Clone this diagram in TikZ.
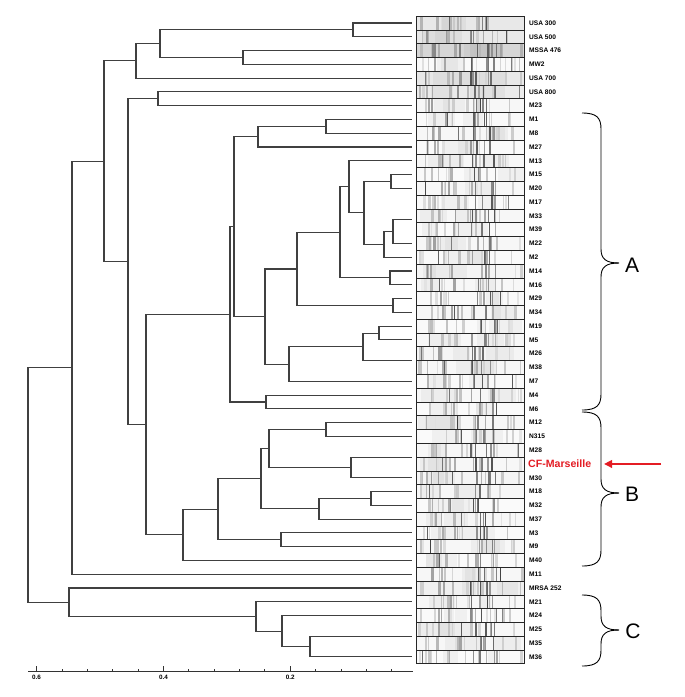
\documentclass[tikz,border=0pt]{standalone}
\usepackage{fontspec}
\setmainfont{Liberation Sans}
\usetikzlibrary{arrows.meta}
\definecolor{cfred}{RGB}{228,28,36}
\newcommand\Yr[1]{{23+13.78*(#1)}}
\tikzset{
  tree/.style={draw=black!75, line width=1.1pt},
  lab/.style={anchor=west, inner sep=0pt, font=\fontsize{6.6}{7}\selectfont\bfseries},
  cflab/.style={anchor=west, inner sep=0pt, font=\fontsize{10.6}{11}\selectfont\bfseries, text=cfred},
  bracestyle/.style={draw=black, line width=0.9pt},
  grp/.style={font=\fontsize{21}{21}\selectfont, inner sep=0pt},
  ticklab/.style={font=\fontsize{6.3}{6.5}\selectfont\bfseries, inner sep=0pt, anchor=north}
}
\newcommand\gbrace[3]{%
  \draw[bracestyle] (582,#1) .. controls (597,#1) and (601,{#1+5}) .. (601,{#1+16})
     -- (601,{#3-14}) .. controls (601,{#3-4}) and (606,#3) .. (619,#3);
  \draw[bracestyle] (582,#2) .. controls (597,#2) and (601,{#2-5}) .. (601,{#2-16})
     -- (601,{#3+14}) .. controls (601,{#3+4}) and (606,#3) .. (619,#3);
}
\begin{document}
\begin{tikzpicture}[x=1pt,y=-1pt]
\useasboundingbox (0,0) rectangle (685,697);
\fill[white] (0,0) rectangle (685,697);

% ---------- gel strips ----------
\pgfmathsetseed{4242}
\foreach \i/\bgc in {0/9,1/9,2/16,3/2,4/9,5/8,6/3,7/2,8/3,9/2,10/3,11/2,12/3,13/2,14/3,15/2,
  16/3,17/2,18/4,19/3,20/2,21/3,22/2,23/3,24/4,25/3,26/2,27/3,28/2,29/3,30/2,31/3,32/3,
  33/4,34/3,35/2,36/3,37/2,38/3,39/2,40/3,41/6,42/3,43/2,44/3,45/3,46/2}{
  \pgfmathsetmacro\yt{23+13.78*\i-6.89}
  \pgfmathsetmacro\yb{23+13.78*\i+6.89}
  \fill[black!\bgc] (416,\yt) rectangle (524,\yb);
  \foreach \k in {1,2}{
    \pgfmathsetmacro\bx{418+rnd*80}
    \pgfmathsetmacro\bw{8+rnd*30}
    \fill[black, opacity=0.04] (\bx,\yt) rectangle ++(\bw,13.78);
  }
  \foreach \k in {1,...,8}{
    \pgfmathsetmacro\bx{418+rnd*103}
    \pgfmathsetmacro\bw{0.8+rnd*2.2}
    \pgfmathtruncatemacro\bg{\bgc+8+rnd*14}
    \fill[black!\bg] (\bx,\yt) rectangle ++(\bw,13.78);
  }
  \foreach \k in {1,...,3}{
    \pgfmathsetmacro\bx{426+rnd*34}
    \pgfmathsetmacro\bw{1+rnd*2}
    \pgfmathtruncatemacro\bg{\bgc+18+rnd*18}
    \fill[black!\bg] (\bx,\yt) rectangle ++(\bw,13.78);
  }
  \foreach \k in {1,...,5}{
    \pgfmathsetmacro\bx{470+rnd*26}
    \pgfmathsetmacro\bw{0.6+rnd*1.4}
    \pgfmathtruncatemacro\bg{28+rnd*40}
    \fill[black!\bg] (\bx,\yt) rectangle ++(\bw,13.78);
  }
  \pgfmathsetmacro\bx{420+rnd*100}
  \pgfmathtruncatemacro\bg{45+rnd*30}
  \fill[black!\bg] (\bx,\yt) rectangle ++(0.7,13.78);
  \draw[black!85, line width=0.7pt] (416,\yt) rectangle (524,\yb);
}

% ---------- leaf coordinates ----------
\foreach \i in {0,...,46}{ \coordinate (l\i) at (412,\Yr{\i}); }
\coordinate (z39) at (412,\Yr{14.25});
\coordinate (z2638) at (412,\Yr{24.5});
\coordinate (z28cf) at (412,\Yr{31.5});
\coordinate (z2535) at (412,\Yr{44.5});

% ---------- internal nodes ----------
\coordinate (nUa) at (353,\Yr{0.5});
\coordinate (nMs) at (243,\Yr{2.5});
\coordinate (nA1) at (160,\Yr{1.5});
\coordinate (nA2) at (136,\Yr{2.75});
\coordinate (nB1) at (158,\Yr{5.5});
\coordinate (n18) at (326,\Yr{7.5});
\coordinate (n27) at (258,\Yr{8.25});
\coordinate (n1520) at (391,\Yr{11.5});
\coordinate (n393) at (393,\Yr{15.125});
\coordinate (n384) at (384,\Yr{16.0625});
\coordinate (n364) at (364,\Yr{13.78});
\coordinate (n349) at (349,\Yr{11.89});
\coordinate (n1416) at (390,\Yr{18.5});
\coordinate (n340) at (340,\Yr{15.195});
\coordinate (n2934) at (393,\Yr{20.5});
\coordinate (n297) at (297,\Yr{17.85});
\coordinate (n195) at (379,\Yr{22.5});
\coordinate (n363) at (363,\Yr{23.5});
\coordinate (n289) at (289,\Yr{24.75});
\coordinate (n265) at (265,\Yr{21.3});
\coordinate (n234) at (234,\Yr{14.775});
\coordinate (n46) at (266,\Yr{27.5});
\coordinate (n230) at (230,\Yr{21.14});
\coordinate (n12315) at (326,\Yr{29.5});
\coordinate (n351) at (351,\Yr{32.25});
\coordinate (n269) at (269,\Yr{30.875});
\coordinate (n1832) at (371,\Yr{34.5});
\coordinate (n319) at (319,\Yr{35.25});
\coordinate (n261) at (261,\Yr{33.06});
\coordinate (n3m9) at (281,\Yr{37.5});
\coordinate (n218) at (218,\Yr{35.28});
\coordinate (n183) at (183,\Yr{37.14});
\coordinate (n146) at (146,\Yr{29.14});
\coordinate (n128) at (128,\Yr{17.32});
\coordinate (n104) at (104,\Yr{10.035});
\coordinate (n72) at (72,\Yr{25.02});
\coordinate (n310) at (310,\Yr{45.25});
\coordinate (n282) at (282,\Yr{44.125});
\coordinate (n256) at (256,\Yr{43.06});
\coordinate (n69) at (69,\Yr{42.03});
\coordinate (nroot) at (28,\Yr{33.5});

% ---------- edges ----------
\foreach \p/\c in {nUa/l0,nUa/l1,nMs/l2,nMs/l3,nA1/nUa,nA1/nMs,nA2/nA1,nA2/l4,
  nB1/l5,nB1/l6,n18/l7,n18/l8,n27/n18,n27/l9,n1520/l11,n1520/l12,
  n393/z39,n393/l16,n384/n393,n384/l17,n364/n1520,n364/n384,
  n349/l10,n349/n364,n1416/l18,n1416/l19,n340/n349,n340/n1416,n2934/l20,n2934/l21,
  n297/n340,n297/n2934,n195/l22,n195/l23,n363/n195,n363/z2638,n289/n363,n289/l26,
  n265/n297,n265/n289,n234/n27,n234/n265,n46/l27,n46/l28,n230/n234,n230/n46,
  n12315/l29,n12315/l30,n351/z28cf,n351/l33,n269/n12315,n269/n351,
  n1832/l34,n1832/l35,n319/n1832,n319/l36,n261/n269,n261/n319,n3m9/l37,n3m9/l38,
  n218/n261,n218/n3m9,n183/n218,n183/l39,n146/n230,n146/n183,n128/nB1,n128/n146,
  n104/nA2,n104/n128,n72/n104,n72/l40,
  n310/z2535,n310/l46,n282/l43,n282/n310,n256/l42,n256/n282,n69/l41,n69/n256,
  nroot/n72,nroot/n69}{
  \draw[tree] (\p) |- (\c);
}

% ---------- labels ----------
\foreach \i/\t in {0/USA 300,1/USA 500,2/MSSA 476,3/MW2,4/USA 700,5/USA 800,6/M23,
  7/M1,8/M8,9/M27,10/M13,11/M15,12/M20,13/M17,14/M33,15/M39,16/M22,17/M2,18/M14,
  19/M16,20/M29,21/M34,22/M19,23/M5,24/M26,25/M38,26/M7,27/M4,28/M6,29/M12,30/N315,
  31/M28,33/M30,34/M18,35/M32,36/M37,37/M3,38/M9,39/M40,40/M11,41/MRSA 252,
  42/M21,43/M24,44/M25,45/M35,46/M36}{
  \node[lab] (lab\i) at (529,\Yr{\i}) {\t};
}
\node[cflab] (lab32) at (528,\Yr{32}) {CF-Marseille};

% ---------- red arrow ----------
\coordinate (arrtail) at (661,\Yr{32});
\coordinate (arrtip) at (604,\Yr{32});
\draw[cfred, line width=2.3pt, -{Triangle[length=8pt,width=7.5pt]}] (arrtail) -- (arrtip);

% ---------- braces ----------
\gbrace{113}{410}{263}
\gbrace{412}{566}{493}
\gbrace{595}{666}{630}
\node[grp] (gA) at (632,265) {A};
\node[grp] (gB) at (632,494) {B};
\node[grp] (gC) at (633,631) {C};

% ---------- axis ----------
\draw[black!80, line width=0.8pt] (28,671) -- (413,671);
\foreach \k in {1,...,15}{
  \pgfmathsetmacro\tx{417-25.36*\k}
  \draw[black!80, line width=0.7pt] (\tx,671) -- (\tx,668.5);
}
\foreach \k/\t in {5/0.2,10/0.4,15/0.6}{
  \pgfmathsetmacro\tx{417-25.36*\k}
  \draw[black!80, line width=0.7pt] (\tx,671) -- (\tx,666);
  \node[ticklab] (tl\k) at (\tx,674.5) {\t};
}
\end{tikzpicture}
\end{document}
